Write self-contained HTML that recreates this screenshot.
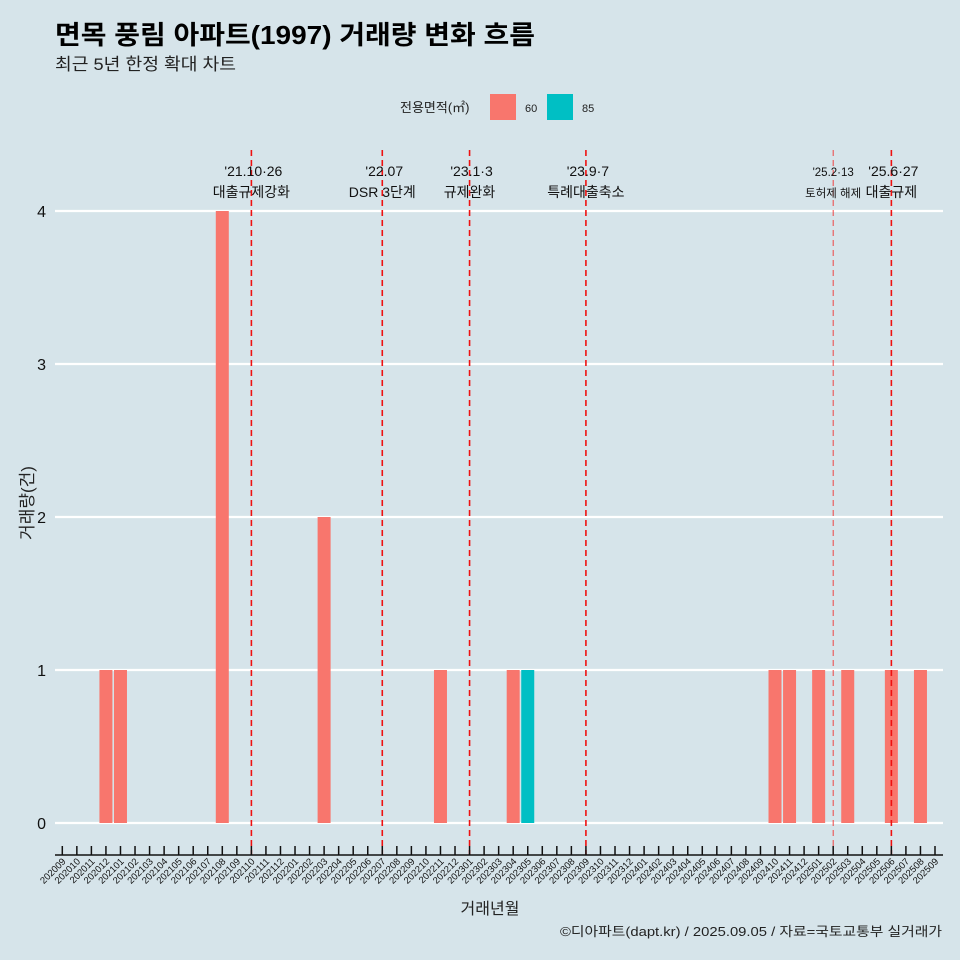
<!DOCTYPE html>
<html><head><meta charset="utf-8">
<style>
html,body{margin:0;padding:0;background:#d6e4ea;}
svg{display:block;font-family:"Liberation Sans","Noto Sans CJK KR",sans-serif;}
</style></head>
<body>
<svg id="chart" width="960" height="960" viewBox="0 0 960 960">
<rect width="960" height="960" fill="#d6e4ea"/>
<text x="55" y="44" font-size="26" font-weight="bold" fill="#000" textLength="480" lengthAdjust="spacingAndGlyphs">면목 풍림 아파트(1997) 거래량 변화 흐름</text>
<text x="55" y="70" font-size="17" fill="#222" textLength="181" lengthAdjust="spacingAndGlyphs">최근 5년 한정 확대 차트</text>
<g>
<text x="400" y="112" font-size="13" fill="#222">전용면적(㎡)</text>
<rect x="490" y="94" width="26" height="26" fill="#f8766d"/>
<text x="525" y="112" font-size="11" fill="#222">60</text>
<rect x="547" y="94" width="26" height="26" fill="#00bfc4"/>
<text x="582" y="112" font-size="11" fill="#222">85</text>
</g>
<g id="grid"></g>
<g id="bars"></g>
<g id="vlines"></g>
<g id="xaxis"></g>
<g id="yaxis"></g>
<text x="490" y="914" font-size="16" text-anchor="middle" fill="#222">거래년월</text>
<text transform="translate(33,503) rotate(-90)" font-size="17" text-anchor="middle" fill="#222">거래량(건)</text>
<text x="942" y="936" font-size="13" text-anchor="end" fill="#222" textLength="382" lengthAdjust="spacingAndGlyphs">©디아파트(dapt.kr) / 2025.09.05 / 자료=국토교통부 실거래가</text>
</svg>
<script>
const months = [];
for (let y = 2020, m = 9; y < 2025 || (y === 2025 && m <= 9); m++) { if (m > 12) { m = 1; y++; } months.push(String(y) + String(m).padStart(2, '0')); }
const barMonths = ['202012','202101','202108','202203','202211','202304','202305','202410','202411','202501','202503','202506','202508'];
const barValues = [1,1,4,2,1,1,1,1,1,1,1,1,1];
const barSizes = ['60','60','60','60','60','60','85','60','60','60','60','60','60'];
const yTicks = [0,1,2,3,4];
const eventMonths = ['202110','202207','202301','202309','202502','202506'];
const eventDates = ["'21.10·26","'22.07","'23.1·3","'23.9·7","'25.2·13","'25.6·27"];
const eventLabels = ['대출규제강화','DSR 3단계','규제완화','특례대출축소','토허제 해제','대출규제'];

const NS = 'http://www.w3.org/2000/svg';
const x0 = 62.3, step = 14.545;
const xPos = mo => x0 + months.indexOf(mo) * step;
const y0 = 823, yUnit = 153;
const yPos = v => y0 - v * yUnit;
const colors = {'60':'#f8766d','85':'#00bfc4'};
function mk(tag, attrs, parent) { const e = document.createElementNS(NS, tag); for (const k in attrs) e.setAttribute(k, attrs[k]); parent.appendChild(e); return e; }

const grid = document.getElementById('grid');
yTicks.forEach(t => {
  const l = mk('line', {x1:55, x2:943, y1:yPos(t), y2:yPos(t), stroke:'#fff', 'stroke-width':2.2}, grid);
  
  
});
const yaxis = document.getElementById('yaxis');
yTicks.forEach(t => {
  const tx = mk('text', {x:46, y:yPos(t)+6, 'font-size':16, 'text-anchor':'end', fill:'#111'}, yaxis);
  tx.textContent = t;
  
  
});
const bars = document.getElementById('bars');
barMonths.forEach((mo, i) => {
  const cx = xPos(mo), w = 13;
  const r = mk('rect', {x:cx - w/2, y:yPos(barValues[i]), width:w, height:yPos(0) - yPos(barValues[i]), fill:colors[barSizes[i]]}, bars);
  
  
});
const vl = document.getElementById('vlines');
eventMonths.forEach((mo, i) => {
  const x = xPos(mo);
  const thin = mo === '202502';
  const l = mk('line', {x1:x, x2:x, y1:150, y2:855, stroke:thin ? '#ee4444' : '#ee1111', 'stroke-width':thin ? 1 : 1.6, 'stroke-dasharray':'6 4'}, vl);
  
  
  const fs = thin ? 11.5 : 14;
  const t1 = mk('text', {x:x + (thin?0:2), y:176, 'font-size':fs, 'text-anchor':'middle', fill:'#111'}, vl);
  t1.textContent = eventDates[i];
  
  
  const t2 = mk('text', {x:x, y:197, 'font-size':fs, 'text-anchor':'middle', fill:'#111'}, vl);
  t2.textContent = eventLabels[i];
  
  
});
const xa = document.getElementById('xaxis');
const ax = mk('line', {x1:55, x2:943, y1:855, y2:855, stroke:'#111', 'stroke-width':1.5}, xa);


months.forEach(mo => {
  const x = xPos(mo);
  const tk = mk('line', {x1:x, x2:x, y1:846, y2:855, stroke:'#111', 'stroke-width':1.5}, xa);
  
  
  const t = mk('text', {transform:'translate(' + (x + 4) + ',862) rotate(-45)', 'font-size':9.5, 'text-anchor':'end', fill:'#111'}, xa);
  t.textContent = mo;
  
  
});
</script>
</body></html>
